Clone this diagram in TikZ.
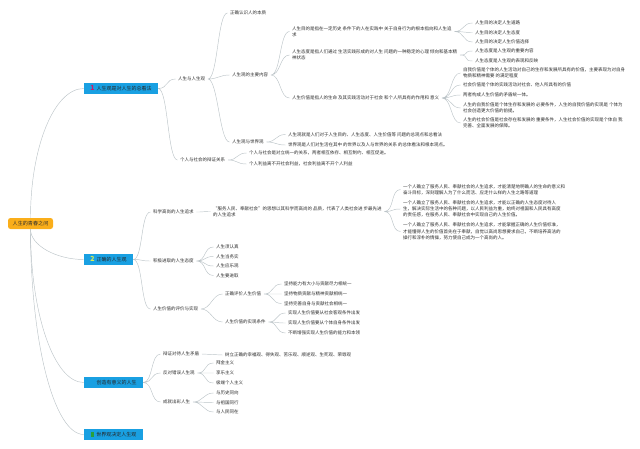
\documentclass[tikz,border=0pt]{standalone}
\usepackage{fontspec}
\setmainfont{Noto Sans CJK SC}
\usepackage{xcolor}
\usepackage{tikz}
\usetikzlibrary{positioning}
\definecolor{rootorange}{RGB}{250,174,26}
\definecolor{topicblue}{RGB}{25,160,226}
\definecolor{linkgray}{RGB}{188,196,200}
\definecolor{textgray}{RGB}{45,45,45}
\definecolor{iconred}{RGB}{200,30,110}
\definecolor{iconlime}{RGB}{220,236,80}
\definecolor{icongreen}{RGB}{40,160,60}
\tikzset{
  root/.style     = {fill=rootorange, rounded corners=2.5pt, text=textgray,
                     font=\fontsize{5.1}{6}\selectfont, minimum width=45pt,
                     minimum height=11pt, inner sep=1pt},
  topic/.style    = {fill=topicblue, text=black!85, font=\fontsize{5}{6}\selectfont,
                     minimum height=11pt, inner sep=1pt},
  subtopic/.style = {anchor=west, text=textgray, font=\fontsize{4.5}{6.2}\selectfont,
                     inner xsep=2.5pt, inner ysep=1pt},
  leaf/.style     = {subtopic, align=left},
  link/.style     = {draw=linkgray, line width=0.45pt, out=0, in=180, distance=10pt},
  trunk/.style    = {draw=linkgray, line width=0.45pt},
}
\newcommand{\topicicon}[2]{{\color{#1}\fontsize{7}{7}\selectfont\bfseries #2}\hspace{2pt}}

\begin{document}
\begin{tikzpicture}[x=1pt, y=-1pt]
\useasboundingbox (0,0) rectangle (640,448);

% --- root and main topics ---
\node[root] (root) at (30.5,223.5) {人生的青春之问};
\node[topic, minimum width=74pt] (t1) at (121,88.5) {\topicicon{iconred}{1}人生观是对人生的总看法};
\node[topic, minimum width=49pt] (t2) at (108.5,259.5) {\topicicon{iconlime}{2}正确的人生观};
\node[topic, minimum width=59pt] (t3) at (113.5,382.5) {\hspace{6pt}创造有意义的人生};
\node[topic, minimum width=59pt] (t4) at (113.5,434.5) {{\color{icongreen}\rule{3.5pt}{5pt}}\hspace{2pt}世界观决定人生观};

% --- 1: outlook on life ---
\node[subtopic] (life) at (175.5,79) {人生与人生观};
\node[subtopic] (indsoc) at (177.5,160) {个人与社会的辩证关系};
\node[subtopic] (essence) at (227.5,13) {正确认识人的本质};
\node[subtopic] (content) at (229.5,75) {人生观的主要内容};
\node[subtopic] (lifeworld) at (229.5,142) {人生观与世界观};

\node[leaf] (goal) at (289.5,31.5)
     {人生目的是指在一定历史 条件下的人在实践中 关于自身行为的根本指向和人生追\\求};
\node[leaf] (attitude) at (289.5,55)
     {人生态度是指人们通过 生活实践形成的对人生 问题的一种稳定的心理 倾向和基本精\\神状态};
\node[leaf] (value) at (289.5,98)
     {人生价值是指人的生命 及其实践活动对于社会 和个人所具有的作用和 意义};

\node[subtopic] (goal1) at (472.5,23) {人生目的决定人生道路};
\node[subtopic] (goal2) at (472.5,32.5) {人生目的决定人生态度};
\node[subtopic] (goal3) at (472.5,42) {人生目的决定人生价值选择};
\node[subtopic] (att1) at (472.5,51) {人生态度是人生观的重要内容};
\node[subtopic] (att2) at (472.5,61) {人生态度是人生观的表现和反映};

\node[leaf] (val1) at (460.5,73)
     {自我价值是个体的人生活动对自己的生存和发展所具有的价值，主要表现为对自身\\物质和精神需要 的满足程度};
\node[subtopic] (val2) at (460.5,85) {社会价值是个体的实践活动对社会、他人所具有的价值};
\node[subtopic] (val3) at (460.5,95) {两者构成人生价值的矛盾统一体。};
\node[leaf] (val4) at (460.5,108)
     {人生的自我价值是个体生存和发展的 必要条件，人生的自我价值的实现是 个体为\\社会创造更大价值的前提。};
\node[leaf] (val5) at (460.5,123)
     {人生的社会价值是社会存在和发展的 重要条件，人生社会价值的实现是个体自 我\\完善、全面发展的保障。};

\node[subtopic] (lw1) at (285.5,134.5) {人生观就是人们对于人生目的、人生态度、人生价值等 问题的总观点和总看法};
\node[subtopic] (lw2) at (285.5,145) {世界观是人们对生活在其中 的世界以及人与世界的关系 的总体看法和根本观点。};
\node[subtopic] (is1) at (246.5,153) {个人与社会是对立统一的关系，两者相互依存、相互制约、相互促进。};
\node[subtopic] (is2) at (246.5,164) {个人利益离不开社会利益，社会利益离不开个人利益};

% --- 2: correct outlook ---
\node[subtopic] (pursuit) at (150.5,212) {科学高尚的人生追求};
\node[leaf] (serve) at (210.5,211.5)
     {“服务人民、奉献社会”的思想以其科学而高尚的 品质，代表了人类社会进 步最先进\\的人生追求};
\node[leaf] (serve1) at (400.5,189.5)
     {一个人确立了服务人民、奉献社会的人生追求，才能清楚地明确人的生命的意义和\\奋斗目标，深刻理解人为了什么而活、应走什么样的人生之路等道理};
\node[leaf] (serve2) at (400.5,209)
     {一个人确立了服务人民、奉献社会的人生追求，才能以正确的人生态度对待人\\生，解决实际生活中的各种问题，以人民利益为重，始终对祖国和人民具有高度\\的责任感，在服务人民、奉献社会中实现自己的人生价值。};
\node[leaf] (serve3) at (400.5,231.5)
     {一个人确立了服务人民、奉献社会的人生追求，才能掌握正确的人生价值标准，\\才能懂得人生的价值首先在于奉献，自觉以高尚思想要求自己，不断培养高洁的\\操行和淳朴的情操，努力使自己成为一个高尚的人。};

\node[subtopic] (progress) at (150.5,261) {积极进取的人生态度};
\node[subtopic] (pr1) at (213.5,247) {人生须认真};
\node[subtopic] (pr2) at (213.5,256.5) {人生当务实};
\node[subtopic] (pr3) at (213.5,266) {人生应乐观};
\node[subtopic] (pr4) at (213.5,275.5) {人生要进取};

\node[subtopic] (evaluate) at (150.5,309) {人生价值的评价与实现};
\node[subtopic] (judge) at (222.5,294) {正确评价人生价值};
\node[subtopic] (cond) at (222.5,322) {人生价值的实现条件};
\node[subtopic] (jd1) at (281.5,284) {坚持能力有大小与贡献尽力相统一};
\node[subtopic] (jd2) at (281.5,294) {坚持物质贡献与精神贡献相统一};
\node[subtopic] (jd3) at (281.5,303.5) {坚持完善自身与贡献社会相统一};
\node[subtopic] (cd1) at (285.5,313) {实现人生价值要从社会客观条件出发};
\node[subtopic] (cd2) at (285.5,323) {实现人生价值要从个体自身条件出发};
\node[subtopic] (cd3) at (285.5,333) {不断增强实现人生价值的能力和本领};

% --- 3: meaningful life ---
\node[subtopic] (dialectic) at (160.5,354) {辩证对待人生矛盾};
\node[subtopic] (outlooks) at (222.5,355) {树立正确的幸福观、得失观、苦乐观、顺逆观、生死观、荣辱观};
\node[subtopic] (oppose) at (160.5,373) {反对错误人生观};
\node[subtopic] (op1) at (213.5,363) {拜金主义};
\node[subtopic] (op2) at (213.5,373) {享乐主义};
\node[subtopic] (op3) at (213.5,383) {极端个人主义};
\node[subtopic] (shine) at (160.5,402) {成就出彩人生};
\node[subtopic] (sh1) at (213.5,393) {与历史同向};
\node[subtopic] (sh2) at (213.5,402.5) {与祖国同行};
\node[subtopic] (sh3) at (213.5,412) {与人民同在};

% --- connectors ---
\draw[trunk] (root.north) to[out=90, in=180, out distance=70pt, in distance=30pt] (t1.west);
\draw[trunk] (root.south) to[out=-90, in=180, out distance=16pt, in distance=28pt] (t2.west);
\draw[trunk] (root.south) to[out=-90, in=180, out distance=84pt, in distance=30pt] (t3.west);
\draw[trunk] (root.south) to[out=-90, in=180, out distance=112pt, in distance=30pt] (t4.west);

\draw[link] (t1.east) to (life.west) (t1.east) to (indsoc.west);
\draw[link] (life.east) to (essence.west) (life.east) to (content.west) (life.east) to (lifeworld.west);
\draw[link] (content.east) to (goal.west) (content.east) to (attitude.west) (content.east) to (value.west);
\draw[link] (goal.east) to (goal1.west) (goal.east) to (goal2.west) (goal.east) to (goal3.west);
\draw[link] (attitude.east) to (att1.west) (attitude.east) to (att2.west);
\draw[link] (value.east) to (val1.west) (value.east) to (val2.west) (value.east) to (val3.west)
            (value.east) to (val4.west) (value.east) to (val5.west);
\draw[link] (lifeworld.east) to (lw1.west) (lifeworld.east) to (lw2.west);
\draw[link] (indsoc.east) to (is1.west) (indsoc.east) to (is2.west);

\draw[link] (t2.east) to (pursuit.west) (t2.east) to (progress.west) (t2.east) to (evaluate.west);
\draw[link] (pursuit.east) to (serve.west);
\draw[link] (serve.east) to (serve1.west) (serve.east) to (serve2.west) (serve.east) to (serve3.west);
\draw[link] (progress.east) to (pr1.west) (progress.east) to (pr2.west)
            (progress.east) to (pr3.west) (progress.east) to (pr4.west);
\draw[link] (evaluate.east) to (judge.west) (evaluate.east) to (cond.west);
\draw[link] (judge.east) to (jd1.west) (judge.east) to (jd2.west) (judge.east) to (jd3.west);
\draw[link] (cond.east) to (cd1.west) (cond.east) to (cd2.west) (cond.east) to (cd3.west);

\draw[link] (t3.east) to (dialectic.west) (t3.east) to (oppose.west) (t3.east) to (shine.west);
\draw[link] (dialectic.east) to (outlooks.west);
\draw[link] (oppose.east) to (op1.west) (oppose.east) to (op2.west) (oppose.east) to (op3.west);
\draw[link] (shine.east) to (sh1.west) (shine.east) to (sh2.west) (shine.east) to (sh3.west);
\end{tikzpicture}
\end{document}
